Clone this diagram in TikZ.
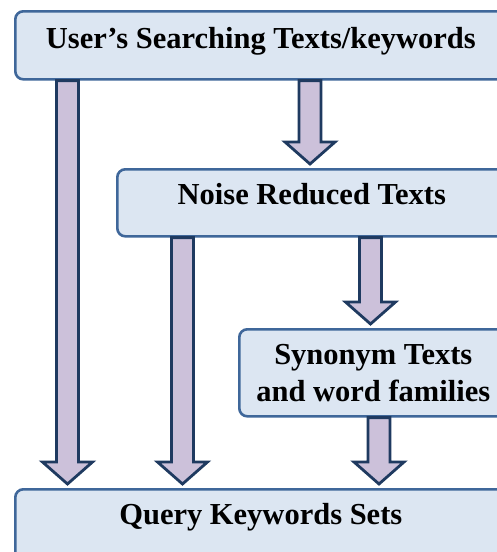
\documentclass[tikz,border=0pt]{standalone}
\usepackage{fontspec}
\setmainfont{Liberation Serif}
\usetikzlibrary{calc}
\definecolor{boxfill}{HTML}{DCE6F2}
\definecolor{boxline}{HTML}{3F679A}
\definecolor{arrowfill}{HTML}{CCC1DA}
\definecolor{arrowline}{HTML}{1F3A60}
\tikzset{
  stagebox/.style={draw=boxline, fill=boxfill, line width=2.6pt, rounded corners=8pt,
    anchor=north west, inner xsep=0pt, inner ysep=0pt, align=center, text height=22pt,
    font=\fontsize{30.5pt}{37pt}\selectfont\bfseries},
  blockarrowstyle/.style={draw=arrowline, fill=arrowfill, line width=2.8pt, line join=miter}
}
% block arrow: #1 centre x (pt), #2 start anchor, #3 target anchor
\newcommand\blockarrow[3]{%
  \draw[blockarrowstyle] let \p1=(#2), \p2=(#3) in
    ({#1pt-11pt},\y1) -- ({#1pt-11pt},\y2+26pt) -- ({#1pt-25pt},\y2+26pt) --
    (#1pt,\y2+4pt) -- ({#1pt+25pt},\y2+26pt) -- ({#1pt+11pt},\y2+26pt) --
    ({#1pt+11pt},\y1) -- cycle;}
\begin{document}
\begin{tikzpicture}[x=1pt,y=-1pt]
  \useasboundingbox (0,0) rectangle (497,552);
  \clip (0,0) rectangle (497,552);
  \node[stagebox, minimum width=491pt, minimum height=68pt, text depth=16.6pt] (user) at (14,10)
    {User’s Searching Texts/keywords};
  \node[stagebox, minimum width=389pt, minimum height=67pt, text depth=19pt] (noise) at (116,168)
    {Noise Reduced Texts};
  \node[stagebox, minimum width=268pt, minimum height=87pt, text height=59pt, text depth=2pt] (syn) at (238,328)
    {Synonym Texts\\and word families};
  \node[stagebox, minimum width=491pt, minimum height=82pt, text depth=34pt] (query) at (14,488)
    {Query Keywords Sets};
  \blockarrow{67.5}{user.south}{query.north}
  \blockarrow{310}{user.south}{noise.north}
  \blockarrow{370.5}{noise.south}{syn.north}
  \blockarrow{182.5}{noise.south}{query.north}
  \blockarrow{379}{syn.south}{query.north}
\end{tikzpicture}
\end{document}
